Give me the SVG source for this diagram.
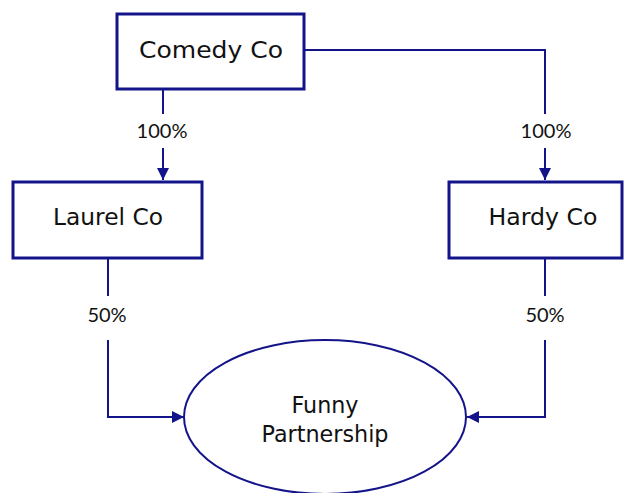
<svg xmlns="http://www.w3.org/2000/svg" width="626" height="493" viewBox="0 0 626 493">
<defs>
<style>
.box{fill:#fff;stroke:#14148a;stroke-width:3}
.ell{fill:#fff;stroke:#14148a;stroke-width:2}
.ln{fill:none;stroke:#14148a;stroke-width:2}
.lbl{font-family:"DejaVu Sans",sans-serif;font-size:23px;fill:#111;text-anchor:middle}
.pct{font-family:Lato,"Liberation Sans",sans-serif;font-size:20px;fill:#111;text-anchor:middle}
</style>
<marker id="ahs" viewBox="0 0 10 10" refX="10" refY="5" markerWidth="12" markerHeight="12" orient="auto" markerUnits="userSpaceOnUse">
<path d="M0,0 L10,5 L0,10 z" fill="#14148a"/>
</marker>
</defs>
<g id="connectors">
<path class="ln" d="M163,89 V114"/>
<path class="ln" d="M163,148 V180" marker-end="url(#ahs)"/>
<path class="ln" d="M304,50 H545 V114"/>
<path class="ln" d="M545,148 V180" marker-end="url(#ahs)"/>
<path class="ln" d="M108,258 V296"/>
<path class="ln" d="M108,340 V417 H184" marker-end="url(#ahs)"/>
<path class="ln" d="M545,258 V296"/>
<path class="ln" d="M545,340 V417 H467" marker-end="url(#ahs)"/>
<text class="pct" x="162" y="138">100%</text>
<text class="pct" x="546" y="138">100%</text>
<text class="pct" x="107" y="322">50%</text>
<text class="pct" x="545" y="322">50%</text>
</g>
<g id="comedy">
<rect class="box" x="117" y="14" width="187" height="75"/>
<text class="lbl" x="211" y="58" textLength="144" lengthAdjust="spacingAndGlyphs">Comedy Co</text>
</g>
<g id="laurel">
<rect class="box" x="13" y="182" width="189" height="76"/>
<text class="lbl" x="108" y="225" textLength="110" lengthAdjust="spacingAndGlyphs">Laurel Co</text>
</g>
<g id="hardy">
<rect class="box" x="449" y="182" width="173" height="76"/>
<text class="lbl" x="543" y="225" textLength="109" lengthAdjust="spacingAndGlyphs">Hardy Co</text>
</g>
<g id="partnership">
<ellipse class="ell" cx="325" cy="417" rx="141" ry="77"/>
<text class="lbl" x="325" y="413" textLength="67" lengthAdjust="spacingAndGlyphs">Funny</text>
<text class="lbl" x="325" y="442" textLength="127" lengthAdjust="spacingAndGlyphs">Partnership</text>
</g>
</svg>
